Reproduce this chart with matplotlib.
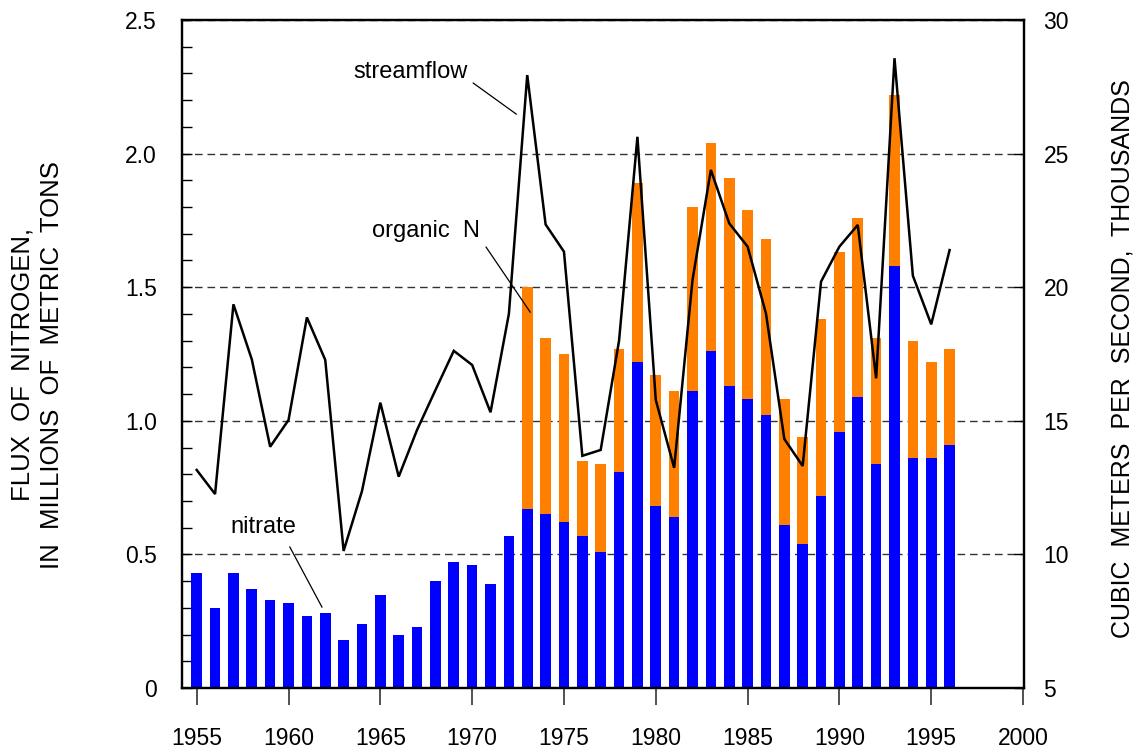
import numpy as np
import matplotlib.pyplot as plt
from matplotlib.ticker import MultipleLocator

plt.rcParams['font.family'] = ['Liberation Sans', 'DejaVu Sans']

# annual values
years = list(range(1955, 1997))
nitrate = [0.43, 0.30, 0.43, 0.37, 0.33, 0.32, 0.27, 0.28, 0.18, 0.24,
           0.35, 0.20, 0.23, 0.40, 0.47, 0.46, 0.39, 0.57, 0.67, 0.65,
           0.62, 0.57, 0.51, 0.81, 1.22, 0.68, 0.64, 1.11, 1.26, 1.13,
           1.08, 1.02, 0.61, 0.54, 0.72, 0.96, 1.09, 0.84, 1.58, 0.86,
           0.86, 0.91]
organic_years = list(range(1973, 1997))
organic = [0.83, 0.66, 0.63, 0.28, 0.33, 0.46, 0.67, 0.49, 0.47, 0.69,
           0.78, 0.78, 0.71, 0.66, 0.47, 0.40, 0.66, 0.67, 0.67, 0.47,
           0.64, 0.44, 0.36, 0.36]
# streamflow, thousands of m3/s
streamflow = [13.16, 12.26, 19.36, 17.30, 14.03, 15.03, 18.87, 17.28, 10.13, 12.37,
              15.68, 12.91, 14.66, 16.15, 17.62, 17.09, 15.32, 19.00, 27.94, 22.35,
              21.33, 13.69, 13.91, 18.00, 25.63, 15.78, 13.24, 20.27, 24.39, 22.39,
              21.52, 19.02, 14.32, 13.31, 20.21, 21.52, 22.33, 16.59, 28.57, 20.43,
              18.61, 21.39]
left_ticks = [0, 0.5, 1.0, 1.5, 2.0, 2.5]
left_labels = ['0', '0.5', '1.0', '1.5', '2.0', '2.5']

fig = plt.figure(figsize=(11.39, 7.55), dpi=100)
ax = fig.add_axes([0.1598, 0.0887, 0.7392, 0.8848])
ax2 = ax.twinx()

ax.bar(years, nitrate, width=0.58, color='#0000ff', zorder=2)
base = nitrate[years.index(1973):]
ax.bar(organic_years, organic, bottom=base, width=0.58, color='#ff8000', zorder=2)

ax2.plot(years, streamflow, color='black', lw=1.8, solid_joinstyle='miter')

ax.set_xlim(1954.2, 2000.05)
ax.set_ylim(0, 2.5)
ax2.set_ylim(5, 30)

ax.set_axisbelow(True)
ax.set_xticks(range(1955, 2001, 5))
ax.set_yticks(left_ticks, left_labels)
ax.yaxis.set_minor_locator(MultipleLocator(0.1))
ax.yaxis.grid(True, which='major', color='#333333', lw=1.0, linestyle=(0, (5.5, 3.5)))
ax2.set_yticks(range(5, 31, 5))

ax.tick_params(axis='x', direction='out', length=12, width=1.2, color='#333333',
               pad=16, labelsize=16.5)
ax.tick_params(axis='y', which='both', direction='in', length=7, width=1,
               pad=18, labelsize=16.5)
ax2.tick_params(axis='y', direction='in', length=7, width=1, pad=14, labelsize=16.5)

for a in (ax, ax2):
    for s in a.spines.values():
        s.set_linewidth(1.6)

fig.text(0.020, 0.517, 'FLUX  OF  NITROGEN,', rotation=90, ha='center', va='center',
         fontsize=18.5)
fig.text(0.046, 0.517, 'IN  MILLIONS  OF  METRIC  TONS', rotation=90, ha='center',
         va='center', fontsize=18.5)
fig.text(0.9855, 0.525, 'CUBIC  METERS  PER  SECOND,  THOUSANDS', rotation=90,
         ha='center', va='center', fontsize=18)

ax.text(1966.62, 2.283, 'streamflow', ha='center', va='baseline', fontsize=17)
ax.plot([1970.06, 1972.40], [2.264, 2.148], color='black', lw=0.9)
ax.text(1967.49, 1.688, 'organic  N', ha='center', va='baseline', fontsize=17)
ax.plot([1970.76, 1973.16], [1.650, 1.407], color='black', lw=0.9, zorder=3)
ax.text(1958.63, 0.580, 'nitrate', ha='center', va='baseline', fontsize=17)
ax.plot([1960.07, 1961.82], [0.528, 0.303], color='black', lw=0.9, zorder=3)

fig.savefig('out.png', dpi=100)
